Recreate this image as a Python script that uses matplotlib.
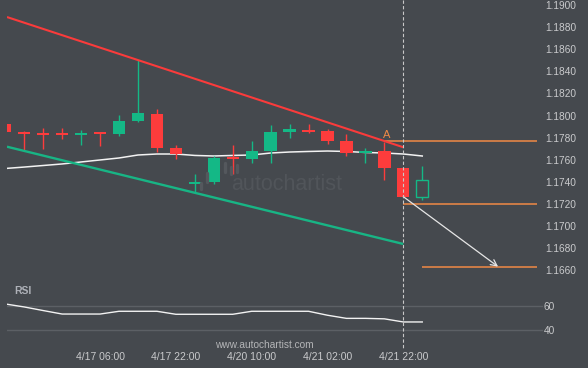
import matplotlib
matplotlib.use('Agg')
import matplotlib.pyplot as plt
from matplotlib.patches import Rectangle
from matplotlib.lines import Line2D
import matplotlib.transforms as mtransforms
import numpy as np

plt.rcParams['font.family'] = ['Liberation Sans', 'DejaVu Sans']

W, H = 588, 368
BG = '#45494e'
RED = '#fd3c3c'
GREEN = '#14b886'
ORANGE = '#f08a46'
TXT = '#c9cacc'

# ---- data ----
opens  = [1.17923, 1.17851, 1.17836, 1.17836, 1.17827, 1.17845, 1.17833, 1.17953,
          1.18014, 1.17706, 1.17383, 1.17401, 1.17622, 1.17607, 1.17679, 1.17854,
          1.17869, 1.17860, 1.17770, 1.17658, 1.17679, 1.17528, 1.17266]
highs  = [1.17930, 1.17860, 1.17884, 1.17884, 1.17869, 1.17854, 1.18002, 1.18502,
          1.18059, 1.17731, 1.17471, 1.17634, 1.17731, 1.17767, 1.17912, 1.17921,
          1.17921, 1.17881, 1.17830, 1.17709, 1.17763, 1.17528, 1.17544]
lows   = [1.17851, 1.17688, 1.17694, 1.17790, 1.17736, 1.17727, 1.17815, 1.17942,
          1.17673, 1.17610, 1.17311, 1.17378, 1.17471, 1.17568, 1.17568, 1.17794,
          1.17839, 1.17740, 1.17634, 1.17568, 1.17417, 1.17266, 1.17236]
closes = [1.17851, 1.17836, 1.17824, 1.17824, 1.17845, 1.17833, 1.17951, 1.18023,
          1.17709, 1.17652, 1.17401, 1.17616, 1.17610, 1.17679, 1.17851, 1.17878,
          1.17854, 1.17772, 1.17658, 1.17679, 1.17528, 1.17266, 1.17414]
moving_avg = [1.17521, 1.17534, 1.17548, 1.17562, 1.17580, 1.17598, 1.17616, 1.17643,
              1.17652, 1.17652, 1.17639, 1.17634, 1.17639, 1.17643, 1.17661, 1.17670,
              1.17675, 1.17679, 1.17675, 1.17666, 1.17661, 1.17652, 1.17634]
rsi_values = [61.7, 59.2, 56.2, 53.3, 53.3, 53.3, 55.6, 55.6, 55.6, 53.1, 53.1, 53.1,
              53.1, 55.6, 55.6, 55.6, 55.6, 52.3, 49.7, 49.7, 49.3, 46.7, 46.7]

trend_x = [0.09, 21.0]
upper_trend = [1.18891, 1.17713]
lower_trend = [1.17718, 1.16838]

resist_level = 1.17770
resist_start = 20
entry_level = 1.17200
entry_start = 21
target_level = 1.16633
target_start = 22
level_end = 28.06
arrow_from = (21, 1.17266)
arrow_to = (26.0, 1.16633)
pattern_end = 21

time_labels = ['4/17 06:00', '4/17 22:00', '4/20 10:00', '4/21 02:00', '4/21 22:00']
time_label_idx = [5, 9, 13, 17, 21]
price_ticks = [1.1660, 1.1680, 1.1700, 1.1720, 1.1740, 1.1760, 1.1780,
               1.1800, 1.1820, 1.1840, 1.1860, 1.1880, 1.1900]
rsi_ticks = [40, 60]

idx = np.arange(len(opens))

# ---- figure ----
fig = plt.figure(figsize=(W / 100, H / 100), dpi=100, facecolor=BG)

def fx(px):
    return px / W

def fy(py):
    return 1 - py / H

ax = fig.add_axes([fx(7), fy(280), fx(543) - fx(7), fy(0) - fy(280)], facecolor=BG)
ax2 = fig.add_axes([fx(7), fy(342), fx(543) - fx(7), fy(288) - fy(342)], facecolor=BG)

xlim = (0.09, 28.37)
for a in (ax, ax2):
    a.set_xlim(*xlim)
    for s in a.spines.values():
        s.set_visible(False)

ax.set_ylim(1.165122, 1.190452)

# watermark logo
ax.text(fx(287), fy(184), 'autochartist', transform=fig.transFigure, color='#51555a',
        fontsize=15.5, ha='center', va='center', zorder=0.5)
for (bx, by0, by1) in [(200.7, 182.7, 189.3), (206.7, 173, 181.7), (225, 163, 171.7),
                       (230.7, 166.7, 174), (237.3, 165, 171.7)]:
    fig.add_artist(Line2D([fx(bx), fx(bx)], [fy(by0), fy(by1)], transform=fig.transFigure,
                          color='#54585d', lw=2.4, solid_capstyle='round', zorder=0.5))

# moving average
ax.plot(idx, moving_avg, color='#f2f2f2', lw=1.1, zorder=2)

# candles
body_w = 0.65
min_h = 0.00018
for i, (o, h, l, c) in enumerate(zip(opens, highs, lows, closes)):
    up = c >= o
    col = GREEN if up else RED
    ax.vlines(i, l, h, color=col, lw=1.0, zorder=3)
    bottom = min(o, c)
    height = max(abs(c - o), min_h)
    if abs(c - o) < min_h:
        bottom = (o + c) / 2 - min_h / 2
    if i == len(opens) - 1:
        ax.add_patch(Rectangle((i - body_w / 2, bottom), body_w, height, facecolor=BG,
                               edgecolor=col, lw=1.0, zorder=4))
    else:
        ax.add_patch(Rectangle((i - body_w / 2, bottom), body_w, height, facecolor=col,
                               edgecolor='none', zorder=4))

# trend lines
ax.plot(trend_x, upper_trend, color='#fa3b3b', lw=1.5, zorder=5, solid_capstyle='butt')
ax.plot(trend_x, lower_trend, color='#18b585', lw=1.7, zorder=5, solid_capstyle='butt')

# levels
ax.hlines(resist_level, resist_start, level_end, color=ORANGE, lw=1.1, zorder=2)
ax.hlines(entry_level, entry_start, level_end, color=ORANGE, lw=1.1, zorder=2)
ax.hlines(target_level, target_start, level_end, color=ORANGE, lw=1.1, zorder=2)
ax.text(resist_start + 0.1, resist_level + 0.00012, 'A', color=ORANGE, fontsize=8,
        ha='center', va='bottom', zorder=6)
ax.annotate('', xy=arrow_to, xytext=arrow_from,
            arrowprops=dict(arrowstyle='->', color='#e6e6e6', lw=0.9,
                            mutation_scale=11, shrinkA=0, shrinkB=0), zorder=6)

# dashed vertical line
trans = mtransforms.blended_transform_factory(ax.transData, fig.transFigure)
fig.add_artist(Line2D([pattern_end, pattern_end], [1.0, fy(350)], transform=trans,
                      color='#c8c8c8', lw=0.8, dashes=(3, 2), zorder=7))

# price axis
ax.yaxis.tick_right()
ax.set_yticks(price_ticks)
ax.set_yticklabels([f'{p:.4f}' for p in price_ticks])
ax.tick_params(axis='y', length=0, pad=1.5, labelsize=7.3, labelcolor=TXT)
ax.set_xticks([])

# RSI panel
for t in rsi_ticks:
    ax2.axhline(t, color='#5c6065', lw=1.0, zorder=1)
ax2.plot(idx, rsi_values, color='#f2f2f2', lw=1.0, zorder=3)
ax2.set_ylim(30, 75)
ax2.yaxis.tick_right()
ax2.set_yticks(rsi_ticks)
ax2.set_yticklabels([str(t) for t in rsi_ticks])
ax2.tick_params(axis='y', length=0, pad=0.5, labelsize=7.3, labelcolor=TXT)
ax2.set_xticks(time_label_idx)
ax2.set_xticklabels(time_labels)
ax2.tick_params(axis='x', length=0, pad=7, labelsize=7.5, labelcolor=TXT)

fig.text(fx(14), fy(291), 'RSI', color='#aeb1b8', fontsize=7.5, fontweight='bold',
         ha='left', va='center')
fig.text(fx(264), fy(345), 'www.autochartist.com', color='#b4b5b7', fontsize=7.3,
         ha='center', va='center')

fig.savefig('out.png', dpi=100, facecolor=BG)
